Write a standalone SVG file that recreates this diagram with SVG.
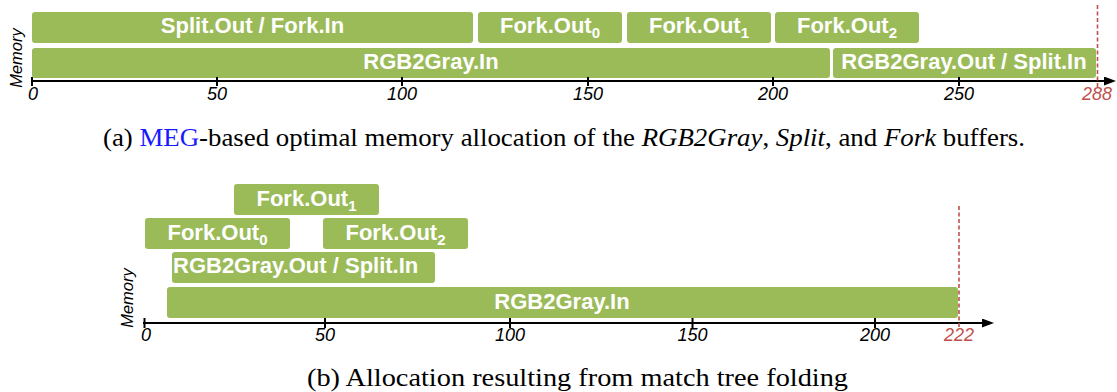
<svg xmlns="http://www.w3.org/2000/svg" width="1117" height="392" viewBox="0 0 1117 392">
<style>
.box{fill:#9BBB59}
.lbl{font-family:"Liberation Sans",Arial,sans-serif;font-weight:bold;font-size:22px;fill:#fff;text-anchor:middle}
.sub{font-size:15px}
.axis{stroke:#000;stroke-width:2;fill:none}
.tick{stroke:#000;stroke-width:2}
.tl{font-family:"Liberation Sans",Arial,sans-serif;font-style:italic;font-size:18px;fill:#000;text-anchor:middle}
.red{fill:#C0504D}
.dash{stroke:#C0504D;stroke-width:1.6;stroke-dasharray:4 2.5;fill:none}
.mem{font-family:"Liberation Sans",Arial,sans-serif;font-style:italic;font-size:16.5px;fill:#000;text-anchor:middle}
.cap{font-family:"Liberation Serif","Times New Roman",serif;font-size:25px;fill:#000}
</style>
<defs>
<marker id="arr" markerWidth="12" markerHeight="9" refX="0" refY="4.5" orient="auto" markerUnits="userSpaceOnUse">
<path d="M0,0 L12,4.5 L0,9 Z" fill="#000"/>
</marker>
</defs>

<!-- Chart (a) -->
<g id="chart-a">
<g id="a-split-out-fork-in"><rect class="box" x="32" y="12" width="441" height="31" rx="3"/><text class="lbl" x="252.5" y="33">Split.Out / Fork.In</text></g>
<g id="a-fork-out0"><rect class="box" x="478" y="12" width="144" height="31" rx="3"/><text class="lbl" x="550" y="33">Fork.Out<tspan class="sub" dy="5">0</tspan></text></g>
<g id="a-fork-out1"><rect class="box" x="627" y="12" width="144" height="31" rx="3"/><text class="lbl" x="699" y="33">Fork.Out<tspan class="sub" dy="5">1</tspan></text></g>
<g id="a-fork-out2"><rect class="box" x="775" y="12" width="144" height="31" rx="3"/><text class="lbl" x="847" y="33">Fork.Out<tspan class="sub" dy="5">2</tspan></text></g>
<g id="a-rgb2gray-in"><rect class="box" x="32" y="48" width="798" height="30" rx="3"/><text class="lbl" x="431" y="69">RGB2Gray.In</text></g>
<g id="a-rgb2gray-out-split-in"><rect class="box" x="833" y="48" width="263" height="30" rx="3"/><text class="lbl" x="964" y="69">RGB2Gray.Out / Split.In</text></g>
<text class="mem" transform="translate(22,58) rotate(-90)">Memory</text>
<g id="a-axis">
<line class="axis" x1="31" y1="81" x2="1104" y2="81" marker-end="url(#arr)"/>
<line class="tick" x1="32" y1="77" x2="32" y2="86"/>
<line class="tick" x1="217" y1="77" x2="217" y2="86"/>
<line class="tick" x1="402" y1="77" x2="402" y2="86"/>
<line class="tick" x1="588" y1="77" x2="588" y2="86"/>
<line class="tick" x1="773" y1="77" x2="773" y2="86"/>
<line class="tick" x1="959" y1="77" x2="959" y2="86"/>
<text class="tl" x="33" y="100">0</text>
<text class="tl" x="217" y="100">50</text>
<text class="tl" x="402" y="100">100</text>
<text class="tl" x="588" y="100">150</text>
<text class="tl" x="773" y="100">200</text>
<text class="tl" x="959" y="100">250</text>
<line class="dash" x1="1097.5" y1="5" x2="1097.5" y2="87"/>
<text class="tl red" x="1097" y="100">288</text>
</g>
</g>
<text class="cap" x="103" y="146" textLength="922" lengthAdjust="spacingAndGlyphs">(a) <tspan fill="#1A1AFF">MEG</tspan>-based optimal memory allocation of the <tspan font-style="italic">RGB2Gray</tspan>, <tspan font-style="italic">Split</tspan>, and <tspan font-style="italic">Fork</tspan> buffers.</text>

<!-- Chart (b) -->
<g id="chart-b">
<g id="b-fork-out1"><rect class="box" x="234" y="184" width="145" height="31" rx="3"/><text class="lbl" x="306.5" y="205.5">Fork.Out<tspan class="sub" dy="5">1</tspan></text></g>
<g id="b-fork-out0"><rect class="box" x="145" y="218" width="145" height="31" rx="3"/><text class="lbl" x="217.5" y="239.5">Fork.Out<tspan class="sub" dy="5">0</tspan></text></g>
<g id="b-fork-out2"><rect class="box" x="323" y="218" width="145" height="31" rx="3"/><text class="lbl" x="395.5" y="239.5">Fork.Out<tspan class="sub" dy="5">2</tspan></text></g>
<g id="b-rgb2gray-out-split-in"><rect class="box" x="172" y="252" width="263" height="31" rx="3"/><text class="lbl" x="173" y="273" style="text-anchor:start">RGB2Gray.Out / Split.In</text></g>
<g id="b-rgb2gray-in"><rect class="box" x="167" y="287" width="791" height="31" rx="3"/><text class="lbl" x="562" y="309">RGB2Gray.In</text></g>
<text class="mem" transform="translate(133,298) rotate(-90)">Memory</text>
<g id="b-axis">
<line class="axis" x1="143" y1="323" x2="982" y2="323" marker-end="url(#arr)"/>
<line class="tick" x1="144.5" y1="318" x2="144.5" y2="328"/>
<line class="tick" x1="325" y1="318" x2="325" y2="328"/>
<line class="tick" x1="510" y1="318" x2="510" y2="328"/>
<line class="tick" x1="692.5" y1="318" x2="692.5" y2="328"/>
<line class="tick" x1="875" y1="318" x2="875" y2="328"/>
<text class="tl" x="146" y="341">0</text>
<text class="tl" x="325" y="341">50</text>
<text class="tl" x="510" y="341">100</text>
<text class="tl" x="692.5" y="341">150</text>
<text class="tl" x="875" y="341">200</text>
<line class="dash" x1="959" y1="206" x2="959" y2="327"/>
<text class="tl red" x="959" y="341">222</text>
</g>
</g>
<text class="cap" x="307" y="386" textLength="541" lengthAdjust="spacingAndGlyphs">(b) Allocation resulting from match tree folding</text>
</svg>
